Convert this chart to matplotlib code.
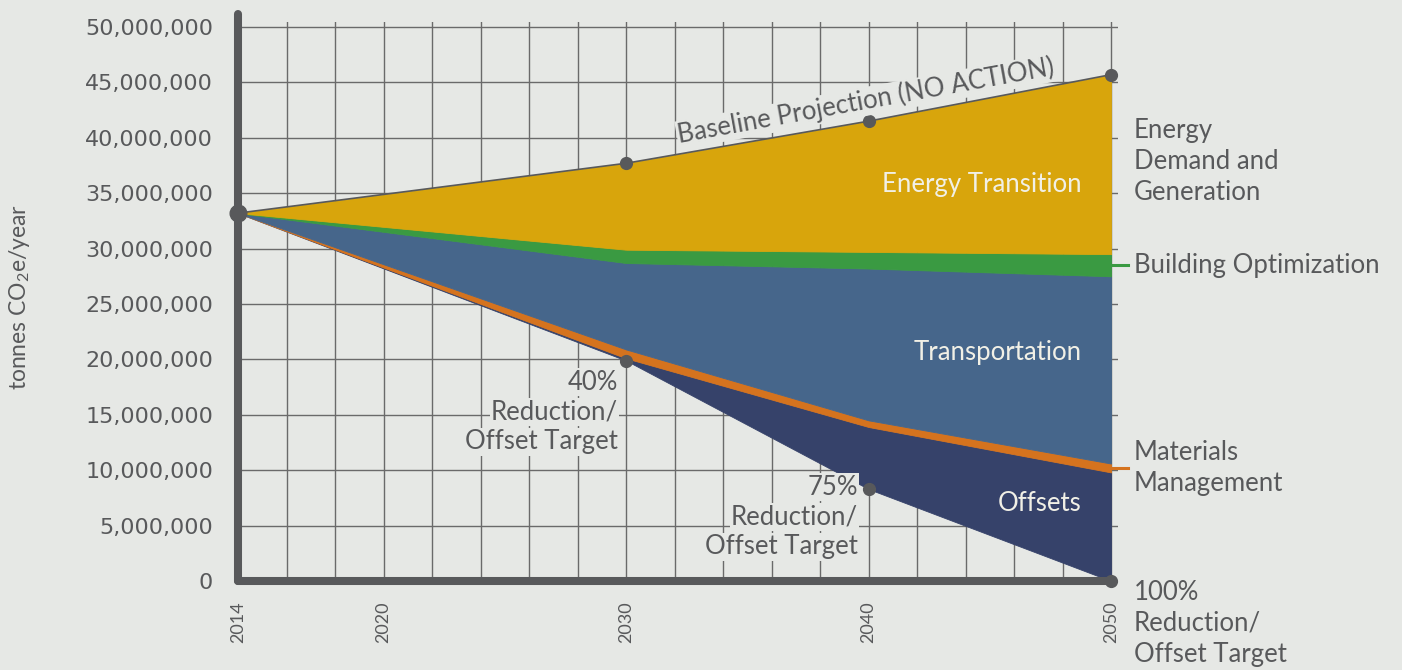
import matplotlib
matplotlib.use('Agg')
import matplotlib.pyplot as plt
import numpy as np
from matplotlib.ticker import FuncFormatter

# values in millions of tonnes CO2e/year
years = [2014, 2030, 2040, 2050]
target = [33.2, 19.9, 8.3, 0.0]          # reduction/offset target line
offsets = [0.0, 0.2, 5.6, 9.8]
materials = [0.0, 0.8, 0.6, 0.8]
transportation = [0.0, 7.8, 13.7, 16.9]
building = [0.0, 1.2, 1.5, 2.0]
energy = [0.0, 7.8, 11.8, 16.2]

layer_names = ['Offsets', 'Materials Management', 'Transportation',
               'Building Optimization', 'Energy Transition']
layer_values = [offsets, materials, transportation, building, energy]

x_labels = [2014, 2020, 2030, 2040, 2050]
y_ticks = list(range(0, 51, 5))

BG = '#E6E8E5'
TEXT = '#58595B'
GRID = '#6A6A6A'
LIGHT = '#F1F0E6'
colors = ['#36426A', '#D5731E', '#46668B', '#3A9A42', '#D8A50C']
FS = 18.5

plt.rcParams['font.family'] = ['Lato', 'DejaVu Sans']
plt.rcParams['mathtext.fontset'] = 'custom'
plt.rcParams['mathtext.rm'] = 'Lato'
plt.rcParams['mathtext.default'] = 'regular'

fig = plt.figure(figsize=(14.02, 6.70), dpi=100, facecolor=BG)
ax = fig.add_axes([238 / 1402, 89 / 670, 880.3 / 1402, 559 / 670])
ax.set_facecolor(BG)
ax.set_xlim(2014, 2050.3)
ax.set_ylim(0, 50.45)

# grid
ax.set_axisbelow(True)
ax.set_xticks(x_labels)
ax.set_xticks(range(2014, 2051, 2), minor=True)
ax.set_yticks(y_ticks)
ax.grid(which='both', axis='x', color=GRID, lw=1.0)
ax.grid(which='major', axis='y', color=GRID, lw=1.0)
ax.yaxis.set_major_formatter(FuncFormatter(lambda v, _: f"{v * 1e6:,.0f}"))
ax.tick_params(which='both', length=0)
ax.tick_params(axis='y', pad=18, labelsize=16, labelcolor=TEXT)
ax.tick_params(axis='x', pad=15, labelsize=13, labelcolor=TEXT, labelrotation=90)
for lbl in ax.get_yticklabels():
    lbl.set_family('DejaVu Sans')
for s in ax.spines.values():
    s.set_visible(False)

# stacked wedges on top of the target line
lower = np.array(target, dtype=float)
for vals, col in zip(layer_values, colors):
    upper = lower + np.array(vals)
    ax.fill_between(years, lower, upper, color=col, lw=0.6, ec=col, zorder=2)
    lower = upper
baseline = lower

ax.plot(years, baseline, color=TEXT, lw=1.2, zorder=3)

# thick axes
ax.plot([2014, 2014], [0, 51.2], color=TEXT, lw=5.8, solid_capstyle='round',
        clip_on=False, zorder=4)
ax.plot([2014, 2050], [0, 0], color=TEXT, lw=5.8, solid_capstyle='round',
        clip_on=False, zorder=4)

# markers
ax.plot(years[1:], baseline[1:], 'o', color=TEXT, ms=8.5, clip_on=False, zorder=5)
ax.plot(years[1:], target[1:], 'o', color=TEXT, ms=8.5, clip_on=False, zorder=5)
ax.plot([years[0]], [target[0]], 'o', color=TEXT, ms=12, clip_on=False, zorder=5)

# right side ticks for thin layers
stack = np.cumsum([target] + layer_values, axis=0)
bld_mid = (stack[3][-1] + stack[4][-1]) / 2
mat_mid = (stack[1][-1] + stack[2][-1]) / 2
ax.plot([2050, 2050.7], [bld_mid, bld_mid], color=colors[3], lw=2.2,
        clip_on=False, zorder=3)
ax.plot([2050, 2050.7], [mat_mid, mat_mid], color=colors[1], lw=2.2,
        clip_on=False, zorder=3)

box = dict(facecolor=BG, edgecolor='none', pad=1.0)

ax.annotate('Baseline Projection (NO ACTION)', xy=(2040, baseline[2]),
            xytext=(0, 5), textcoords='offset points', ha='center', va='bottom',
            rotation=10.3, rotation_mode='anchor', fontsize=FS, color=TEXT,
            bbox=box, zorder=6)

ax.text(2048.8, 35.8, 'Energy Transition', ha='right', va='center',
        fontsize=FS, color=LIGHT, zorder=6)
ax.text(2048.8, 20.6, 'Transportation', ha='right', va='center',
        fontsize=FS, color=LIGHT, zorder=6)
ax.text(2048.8, 7.0, 'Offsets', ha='right', va='center',
        fontsize=FS, color=LIGHT, zorder=6)

# target notes, one line at a time so each gets its own background patch
step = 2.7  # about 30 px between lines
for xr, yc, pct in [(2029.67, 15.25, '40%'), (2039.57, 5.78, '75%')]:
    for i, line in enumerate([pct, 'Reduction/', 'Offset Target']):
        ax.text(xr, yc + step * (1 - i), line, ha='right', va='center',
                fontsize=FS, color=TEXT, bbox=box, zorder=6)

rx = 2050.95
ax.text(rx, 37.9, 'Energy\nDemand and\nGeneration', ha='left', va='center',
        fontsize=FS, color=TEXT, linespacing=1.3)
ax.text(rx, bld_mid, 'Building Optimization', ha='left', va='center',
        fontsize=FS, color=TEXT)
ax.text(rx, mat_mid, 'Materials\nManagement', ha='left', va='center',
        fontsize=FS, color=TEXT, linespacing=1.3)
ax.text(rx, -3.8, '100%\nReduction/\nOffset Target', ha='left', va='center',
        fontsize=FS, color=TEXT, linespacing=1.3)

fig.text(20 / 1402, 1 - 297 / 670, 'tonnes CO$_2$e/year', rotation=90,
         ha='center', va='center', fontsize=16.5, color=TEXT)

fig.savefig('out.png', dpi=100, facecolor=BG)
